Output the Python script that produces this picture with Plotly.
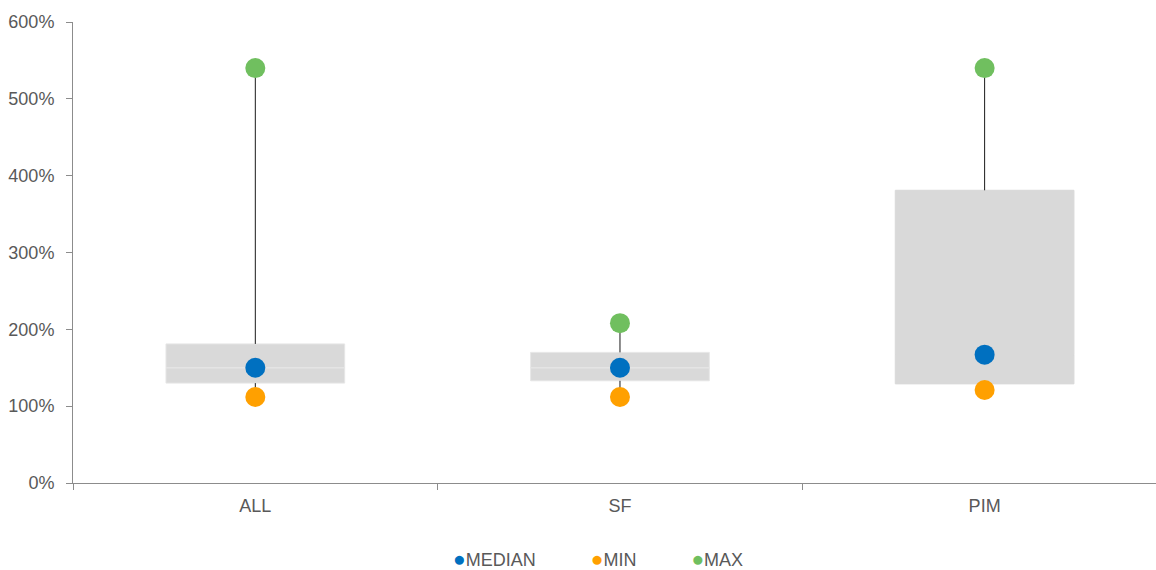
import plotly.graph_objects as go

categories = ['ALL', 'SF', 'PIM']
q1 = [1.30, 1.33, 1.29]
q3 = [1.81, 1.70, 3.81]
median = [1.50, 1.50, 1.67]
min_vals = [1.12, 1.12, 1.21]
max_vals = [5.40, 2.08, 5.40]

grey = '#595959'
box_edge = ['#E6E6E6', '#E6E6E6', '#D9D9D9']
fig = go.Figure()

# box halves (stacked bars: Q1->median, median->Q3)
fig.add_trace(go.Bar(x=categories, y=[m - a for m, a in zip(median, q1)], base=q1,
                     width=0.49, marker=dict(color='#D9D9D9', line=dict(color=box_edge, width=1)),
                     showlegend=False, hoverinfo='skip'))
fig.add_trace(go.Bar(x=categories, y=[b - m for b, m in zip(q3, median)], base=median,
                     width=0.49, marker=dict(color='#D9D9D9', line=dict(color=box_edge, width=1)),
                     showlegend=False, hoverinfo='skip'))

# whiskers
wx, wy = [], []
for c, lo, a, b, hi in zip(categories, min_vals, q1, q3, max_vals):
    wx += [c, c, None, c, c, None]
    wy += [lo, a, None, b, hi, None]
fig.add_trace(go.Scatter(x=wx, y=wy, mode='lines', line=dict(color='#1A1A1A', width=1),
                         showlegend=False, hoverinfo='skip'))

series = [('MEDIAN', median, '#0070C0'), ('MIN', min_vals, '#FFA000'), ('MAX', max_vals, '#70BF5F')]
for name, vals, col in series:
    fig.add_trace(go.Scatter(x=categories, y=vals, mode='markers', name=name,
                             marker=dict(color=col, size=20), showlegend=False))
    # legend entry: coloured dot glyph in the text, symbol itself transparent
    fig.add_trace(go.Scatter(x=[None], y=[None], mode='markers',
                             name='<span style="color:%s;font-size:21px">●</span>%s\u00a0\u00a0' % (col, name),
                             marker=dict(color='rgba(0,0,0,0)', size=1)))

fig.update_layout(
    width=1156, height=570,
    margin=dict(l=73, r=0, t=22, b=87, autoexpand=False),
    plot_bgcolor='white', paper_bgcolor='white',
    barmode='overlay',
    font=dict(family='Liberation Sans, Arial, sans-serif', size=18, color=grey),
    showlegend=True,
    legend=dict(orientation='h', x=0.4737, xanchor='center',
                y=-0.1649, yanchor='middle', itemwidth=30,
                font=dict(size=18, color=grey)),
    xaxis=dict(type='category', range=[-0.5, 2.47], showline=True, linecolor='#8C8C8C',
               linewidth=1, ticks='outside', tickson='boundaries', ticklen=6,
               tickcolor='#8C8C8C', showgrid=False, zeroline=False, automargin=False,
               ticklabelstandoff=6),
    yaxis=dict(range=[0, 6], dtick=1, tickformat='.0%', showline=True, linecolor='#8C8C8C',
               linewidth=1, ticks='outside', ticklen=6, tickcolor='#8C8C8C',
               showgrid=False, zeroline=False, automargin=False, ticklabelstandoff=8),
)

# page has a default 8px body margin; drop it so the figure fills the window
fig.write_html('out.html', config={'displayModeBar': False},
               post_script="document.body.style.margin='0';")
